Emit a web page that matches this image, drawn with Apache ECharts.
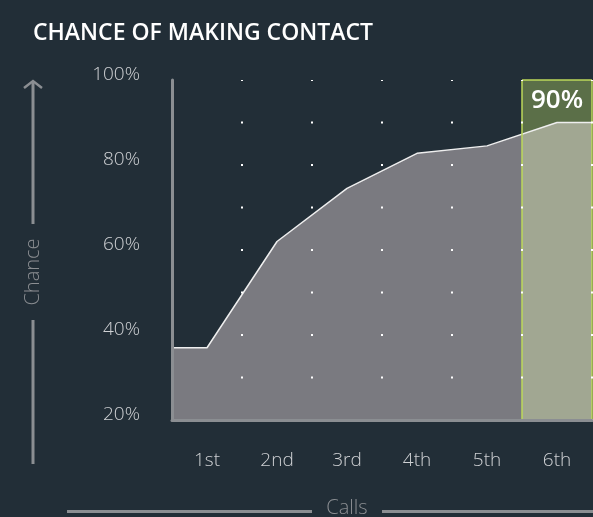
<!DOCTYPE html>
<html>
<head>
<meta charset="utf-8">
<script src="https://cdn.jsdelivr.net/npm/echarts@6/dist/echarts.min.js"></script>
<style>
  html, body { margin: 0; padding: 0; background: #222e37; }
  #main { width: 593px; height: 517px; }
</style>
</head>
<body>
<div id="main"></div>
<script>
// calls on the x axis, chance (%) at the middle of each call
var callLabels = ['1st', '2nd', '3rd', '4th', '5th', '6th'];
var chanceValues = [37, 62, 74.5, 82.75, 84.5, 90];
var yTicks = [20, 40, 60, 80, 100];
var highlightIndex = 5; // 6th call

var grey = '#7a7a80';
var olive = '#a1a792';
var darkGreen = '#5b6f48';
var lime = '#bcd95a';
var axisGrey = '#8b8e92';
var labelColor = '#cfd1d4';

// line runs flat from the axis to the first call and after the last one
var points = [[0, chanceValues[0]]];
for (var i = 0; i < chanceValues.length; i++) {
    points.push([i + 0.5, chanceValues[i]]);
}
points.push([callLabels.length, chanceValues[chanceValues.length - 1]]);

// area is grey up to the highlighted call, olive after it
var split = highlightIndex / callLabels.length;
var areaColor = new echarts.graphic.LinearGradient(0, 0, 1, 0, [
    { offset: 0, color: grey },
    { offset: split, color: grey },
    { offset: split, color: olive },
    { offset: 1, color: olive }
]);

var yMin = yTicks[0];
var yMax = yTicks[yTicks.length - 1];

var myChart = echarts.init(document.getElementById('main'));

var option = {
    backgroundColor: '#222e37',
    animation: false,
    title: {
        text: 'CHANCE OF MAKING CONTACT',
        left: 28,
        top: 17,
        textStyle: { color: '#ffffff', fontSize: 23, fontWeight: 600, fontFamily: 'Open Sans' }
    },
    grid: { left: 172, right: 1, top: 80, bottom: 97 },
    xAxis: [
        {
            type: 'value',
            min: 0,
            max: callLabels.length,
            interval: 1,
            z: 10,
            axisLabel: { show: false },
            axisTick: { show: false },
            axisLine: { show: true, lineStyle: { color: axisGrey, width: 3 } },
            splitLine: {
                show: true,
                lineStyle: { color: '#ffffff', width: 2, type: [2, 40.5], dashOffset: 1 }
            }
        },
        {
            type: 'category',
            data: callLabels,
            position: 'bottom',
            boundaryGap: true,
            axisLine: { show: false },
            axisTick: { show: false },
            axisLabel: { color: labelColor, fontSize: 19, fontWeight: 300, fontFamily: 'Open Sans', margin: 31 }
        }
    ],
    yAxis: {
        type: 'value',
        min: yMin,
        max: yMax,
        interval: 20,
        z: 10,
        axisLine: { show: true, lineStyle: { color: axisGrey, width: 3 } },
        axisTick: { show: false },
        splitLine: { show: false },
        axisLabel: {
            color: labelColor,
            fontSize: 19,
            fontWeight: 300,
            fontFamily: 'Open Sans',
            margin: 32,
            verticalAlign: 'bottom',
            lineHeight: 10,
            formatter: '{value}%'
        }
    },
    series: [
        {
            type: 'line',
            data: points,
            xAxisIndex: 0,
            showSymbol: false,
            z: 2,
            lineStyle: { width: 0 },
            areaStyle: { color: areaColor, opacity: 1 },
            markArea: {
                silent: true,
                itemStyle: { color: darkGreen },
                label: {
                    show: true,
                    position: 'insideTop',
                    distance: 8,
                    color: '#ffffff',
                    fontSize: 26,
                    fontWeight: 600,
                    fontFamily: 'Open Sans',
                    formatter: chanceValues[highlightIndex] + '%'
                },
                data: [[
                    { xAxis: highlightIndex, yAxis: yMax },
                    { xAxis: highlightIndex + 1, yAxis: yMin }
                ]]
            }
        },
        {
            type: 'line',
            data: points,
            xAxisIndex: 0,
            showSymbol: false,
            z: 3,
            lineStyle: { color: '#eeeeee', width: 1.5 },
            markLine: {
                silent: true,
                symbol: 'none',
                label: { show: false },
                lineStyle: { color: lime, width: 1.5, type: 'solid' },
                data: [
                    [{ coord: [highlightIndex, yMin] }, { coord: [highlightIndex, yMax] }],
                    [{ coord: [highlightIndex, yMax] }, { coord: [highlightIndex + 1, yMax] }],
                    [{ coord: [highlightIndex + 1, yMin] }, { coord: [highlightIndex + 1, yMax] }]
                ]
            }
        }
    ],
    graphic: [
        // "Chance" arrow on the left
        { type: 'line', shape: { x1: 33, y1: 82, x2: 33, y2: 224 }, style: { stroke: axisGrey, lineWidth: 3 } },
        { type: 'polyline', shape: { points: [[24, 88], [33, 81], [42, 88]] }, style: { stroke: axisGrey, lineWidth: 2.5, fill: null } },
        {
            type: 'text', x: 33, y: 272, rotation: Math.PI / 2,
            style: { text: 'Chance', fill: axisGrey, font: '300 20px "Open Sans"', align: 'center', verticalAlign: 'middle' }
        },
        { type: 'line', shape: { x1: 33, y1: 320, x2: 33, y2: 464 }, style: { stroke: axisGrey, lineWidth: 3 } },
        // "Calls" line at the bottom
        { type: 'line', shape: { x1: 67, y1: 511.5, x2: 312, y2: 511.5 }, style: { stroke: axisGrey, lineWidth: 3 } },
        {
            type: 'text', x: 347, y: 508,
            style: { text: 'Calls', fill: axisGrey, font: '300 20px "Open Sans"', align: 'center', verticalAlign: 'middle' }
        },
        { type: 'line', shape: { x1: 382, y1: 511.5, x2: 593, y2: 511.5 }, style: { stroke: axisGrey, lineWidth: 3 } }
    ]
};
myChart.setOption(option);
</script>
</body>
</html>
